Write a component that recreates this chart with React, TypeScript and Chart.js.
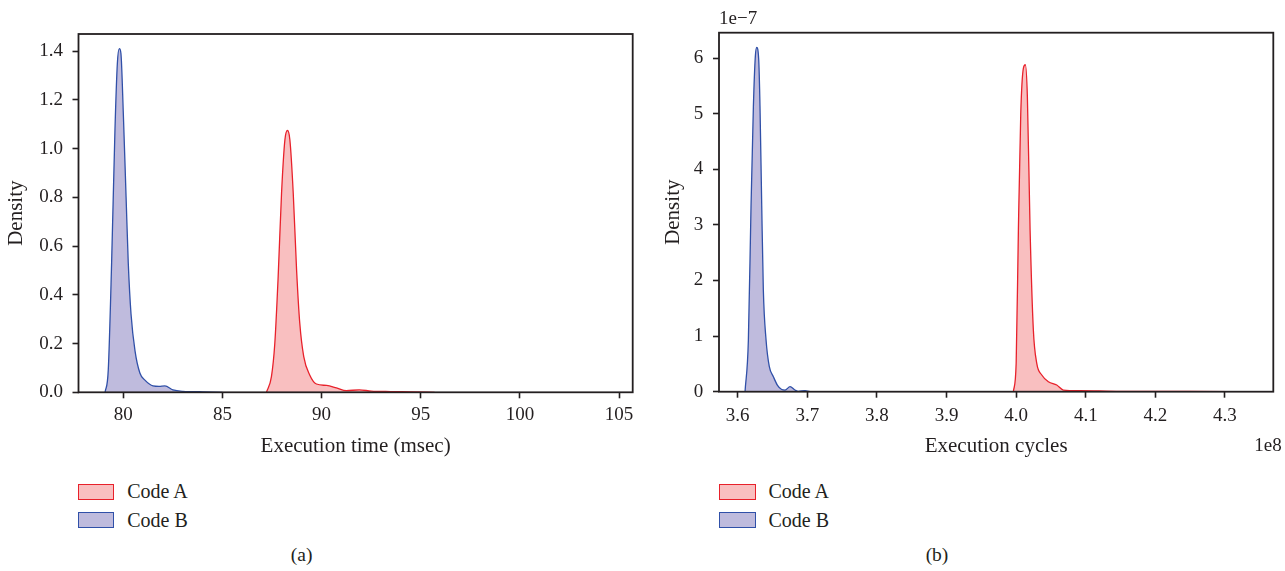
import React, { useEffect, useRef } from "react";
import { Chart, registerables } from "chart.js";

Chart.register(...registerables);

// ---------- tick labels ----------
const timeTicks = [80, 85, 90, 95, 100, 105];
const timeDensityTicks = [0, 0.2, 0.4, 0.6, 0.8, 1.0, 1.2, 1.4];
const cycleTicks = [3.6, 3.7, 3.8, 3.9, 4.0, 4.1, 4.2, 4.3];
const cycleDensityTicks = [0, 1, 2, 3, 4, 5, 6];

// ---------- (a) execution time (msec) vs density ----------
const timeA_x = [87.22, 87.47, 87.64, 87.81, 87.98, 88.15, 88.28, 88.4, 88.57, 88.74, 88.9, 89.1, 89.4, 89.74, 90.25, 90.75, 91.25, 91.9, 92.5, 93.5, 94.5, 95.7];
const timeA_y = [0, 0.064, 0.2, 0.475, 0.817, 1.036, 1.074, 1.036, 0.817, 0.5, 0.283, 0.146, 0.071, 0.034, 0.028, 0.018, 0.007, 0.01, 0.005, 0.003, 0.002, 0];
const timeB_x = [79.08, 79.24, 79.41, 79.58, 79.7, 79.8, 79.88, 80.0, 80.14, 80.25, 80.39, 80.59, 80.84, 81.09, 81.5, 81.8, 82.1, 82.5, 83.0, 83.5, 84.0, 85.0];
const timeB_y = [0, 0.09, 0.53, 1.08, 1.35, 1.41, 1.39, 1.145, 0.8, 0.53, 0.32, 0.17, 0.078, 0.05, 0.026, 0.024, 0.026, 0.01, 0.004, 0.003, 0.002, 0];

// ---------- (b) execution cycles (x 1e8) vs density (x 1e-7) ----------
const cycA_x = [3.996, 4.0, 4.0032, 4.0066, 4.0104, 4.0132, 4.0161, 4.02, 4.0247, 4.0296, 4.0368, 4.0463, 4.0583, 4.0678, 4.0918, 4.15, 4.25, 4.333];
const cycA_y = [0, 0.51, 2.91, 5.0, 5.82, 5.88, 5.31, 2.91, 1.11, 0.51, 0.3, 0.18, 0.12, 0.03, 0.02, 0.005, 0.004, 0];
const cycB_x = [3.6105, 3.6153, 3.6191, 3.6225, 3.6253, 3.6273, 3.6302, 3.632, 3.6345, 3.6368, 3.6407, 3.6454, 3.6512, 3.6569, 3.6632, 3.668, 3.6752, 3.6823, 3.687, 3.6967, 3.704, 3.75, 3.85, 3.92];
const cycB_y = [0, 0.93, 3.33, 5.13, 6.03, 6.19, 5.96, 5.13, 3.33, 1.83, 0.93, 0.45, 0.27, 0.12, 0.04, 0.03, 0.09, 0.03, 0.005, 0.02, 0.003, 0.002, 0.002, 0];

const seriesNames = ["Code A", "Code B"];

const FONT = "'Liberation Serif', 'Times New Roman', serif";
const INK = "#231f20";
const RED_LINE = "#e8212b";
const RED_FILL = "#f9bfc0";
const BLUE_LINE = "#3050a8";
const BLUE_FILL = "#bfbbdd";

type Cfg = {
  ax: number[]; ay: number[]; bx: number[]; by: number[];
  xMin: number; xMax: number; yMax: number;
  xTicks: number[]; yTicks: number[];
  xFmt: (v: number) => string; yFmt: (v: number) => string;
  xTitle: string;
  padding: { left: number; top: number; right: number; bottom: number };
  yWidth: number; yTitlePad: number; yTickPad: number; xTickPad: number; xTitlePad: number;
  topText?: { text: string; x: number; y: number };
  rightText?: { text: string; x: number; y: number };
};

function pts(xs: number[], ys: number[]) {
  return xs.map((x, i) => ({ x, y: ys[i] }));
}

function makeChart(canvas: HTMLCanvasElement, c: Cfg) {
  const frame = {
    id: "frame",
    afterDraw(chart: any) {
      const { ctx, chartArea: a } = chart;
      ctx.save();
      ctx.strokeStyle = INK;
      ctx.lineWidth = 1.8;
      ctx.strokeRect(a.left, a.top, a.right - a.left, a.bottom - a.top);
      ctx.fillStyle = INK;
      ctx.font = `19px ${FONT}`;
      ctx.textBaseline = "middle";
      if (c.topText) {
        ctx.textAlign = "left";
        ctx.fillText(c.topText.text, c.topText.x, c.topText.y);
      }
      if (c.rightText) {
        ctx.textAlign = "right";
        ctx.fillText(c.rightText.text, c.rightText.x, c.rightText.y);
      }
      ctx.restore();
    },
  };
  return new Chart(canvas, {
    type: "line",
    data: {
      datasets: [
        {
          label: seriesNames[0],
          data: pts(c.ax, c.ay),
          borderColor: RED_LINE,
          backgroundColor: RED_FILL,
          fill: "origin",
          borderWidth: 1.3,
          pointRadius: 0,
          cubicInterpolationMode: "monotone",
        },
        {
          label: seriesNames[1],
          data: pts(c.bx, c.by),
          borderColor: BLUE_LINE,
          backgroundColor: BLUE_FILL,
          fill: "origin",
          borderWidth: 1.3,
          pointRadius: 0,
          cubicInterpolationMode: "monotone",
        },
      ],
    },
    options: {
      responsive: false,
      animation: false,
      devicePixelRatio: 1,
      layout: { padding: c.padding },
      plugins: { legend: { display: false }, tooltip: { enabled: false } },
      scales: {
        x: {
          type: "linear",
          min: c.xMin,
          max: c.xMax,
          afterBuildTicks: (s: any) => {
            s.ticks = c.xTicks.map((v) => ({ value: v }));
          },
          afterFit: (s: any) => {
            s.height = 70;
          },
          ticks: {
            font: { family: FONT, size: 19 },
            color: INK,
            padding: c.xTickPad,
            maxRotation: 0,
            autoSkip: false,
            callback: (v: any) => c.xFmt(Number(v)),
          },
          grid: { drawOnChartArea: false, tickLength: 6, tickWidth: 1.6, tickColor: INK, color: INK },
          border: { display: false },
          title: {
            display: true,
            text: c.xTitle,
            font: { family: FONT, size: 21 },
            color: INK,
            padding: { top: 0, bottom: c.xTitlePad },
          },
        },
        y: {
          type: "linear",
          min: 0,
          max: c.yMax,
          afterBuildTicks: (s: any) => {
            s.ticks = c.yTicks.map((v) => ({ value: v }));
          },
          afterFit: (s: any) => {
            s.width = c.yWidth;
          },
          ticks: {
            font: { family: FONT, size: 19 },
            color: INK,
            padding: c.yTickPad,
            autoSkip: false,
            callback: (v: any) => c.yFmt(Number(v)),
          },
          grid: { drawOnChartArea: false, tickLength: 6, tickWidth: 1.6, tickColor: INK, color: INK },
          border: { display: false },
          title: {
            display: true,
            text: "Density",
            font: { family: FONT, size: 21 },
            color: INK,
            padding: { top: c.yTitlePad, bottom: 0 },
          },
        },
      },
    },
    plugins: [frame],
  } as any);
}

function ChartCanvas({ cfg, left, width }: { cfg: Cfg; left: number; width: number }) {
  const ref = useRef<HTMLCanvasElement | null>(null);
  useEffect(() => {
    if (!ref.current) return;
    const ch = makeChart(ref.current, cfg);
    return () => ch.destroy();
  }, []);
  return (
    <canvas
      ref={ref}
      width={width}
      height={470}
      style={{ position: "absolute", left, top: 0, width, height: 470 }}
    />
  );
}

function Legend({ left }: { left: number }) {
  const items = [
    { name: seriesNames[0], fill: RED_FILL, line: RED_LINE, boxTop: 483.5, textTop: 479 },
    { name: seriesNames[1], fill: BLUE_FILL, line: BLUE_LINE, boxTop: 512, textTop: 507.6 },
  ];
  return (
    <>
      {items.map((it) => (
        <React.Fragment key={it.name}>
          <div
            style={{
              position: "absolute",
              left,
              top: it.boxTop,
              width: 36.5,
              height: 16,
              boxSizing: "border-box",
              background: it.fill,
              border: `1.5px solid ${it.line}`,
            }}
          />
          <div
            style={{
              position: "absolute",
              left: left + 49.5,
              top: it.textTop,
              fontFamily: FONT,
              fontSize: 20,
              lineHeight: "24px",
              color: INK,
              whiteSpace: "nowrap",
            }}
          >
            {it.name}
          </div>
        </React.Fragment>
      ))}
    </>
  );
}

const cfgA: Cfg = {
  ax: timeA_x, ay: timeA_y, bx: timeB_x, by: timeB_y,
  xMin: 77.74, xMax: 105.69, yMax: 1.47,
  xTicks: timeTicks, yTicks: timeDensityTicks,
  xFmt: (v) => String(Math.round(v)), yFmt: (v) => v.toFixed(1),
  xTitle: "Execution time (msec)",
  padding: { left: 0, top: 34, right: 650 - 632.7, bottom: 470 - 392.3 - 70 },
  yWidth: 78.5, yTitlePad: 3.9, yTickPad: 9.5, xTickPad: 5.3, xTitlePad: 2.8,
};

const cfgB: Cfg = {
  ax: cycA_x, ay: cycA_y, bx: cycB_x, by: cycB_y,
  xMin: 3.5731, xMax: 4.3694, yMax: 6.456,
  xTicks: cycleTicks, yTicks: cycleDensityTicks,
  xFmt: (v) => v.toFixed(1), yFmt: (v) => String(Math.round(v)),
  xTitle: "Execution cycles",
  padding: { left: 0, top: 32.7, right: 635 - 623.3, bottom: 470 - 391.7 - 70 },
  yWidth: 69, yTitlePad: 10.9, yTickPad: 9.7, xTickPad: 6.5, xTitlePad: 2.2,
  topText: { text: "1e\u22127", x: 69, y: 19 },
  rightText: { text: "1e8", x: 631.7, y: 446 },
};

export default function App() {
  return (
    <div
      style={{
        position: "absolute",
        left: 0,
        top: 0,
        width: 1285,
        height: 571,
        background: "#ffffff",
        overflow: "hidden",
      }}
    >
      <ChartCanvas cfg={cfgA} left={0} width={650} />
      <ChartCanvas cfg={cfgB} left={650} width={635} />
      <Legend left={77.7} />
      <Legend left={719} />
      <div style={{ position: "absolute", left: 281.7, width: 40, top: 543, textAlign: "center", fontFamily: FONT, fontSize: 19.5, lineHeight: "24px", color: INK }}>(a)</div>
      <div style={{ position: "absolute", left: 917, width: 40, top: 543, textAlign: "center", fontFamily: FONT, fontSize: 19.5, lineHeight: "24px", color: INK }}>(b)</div>
    </div>
  );
}
